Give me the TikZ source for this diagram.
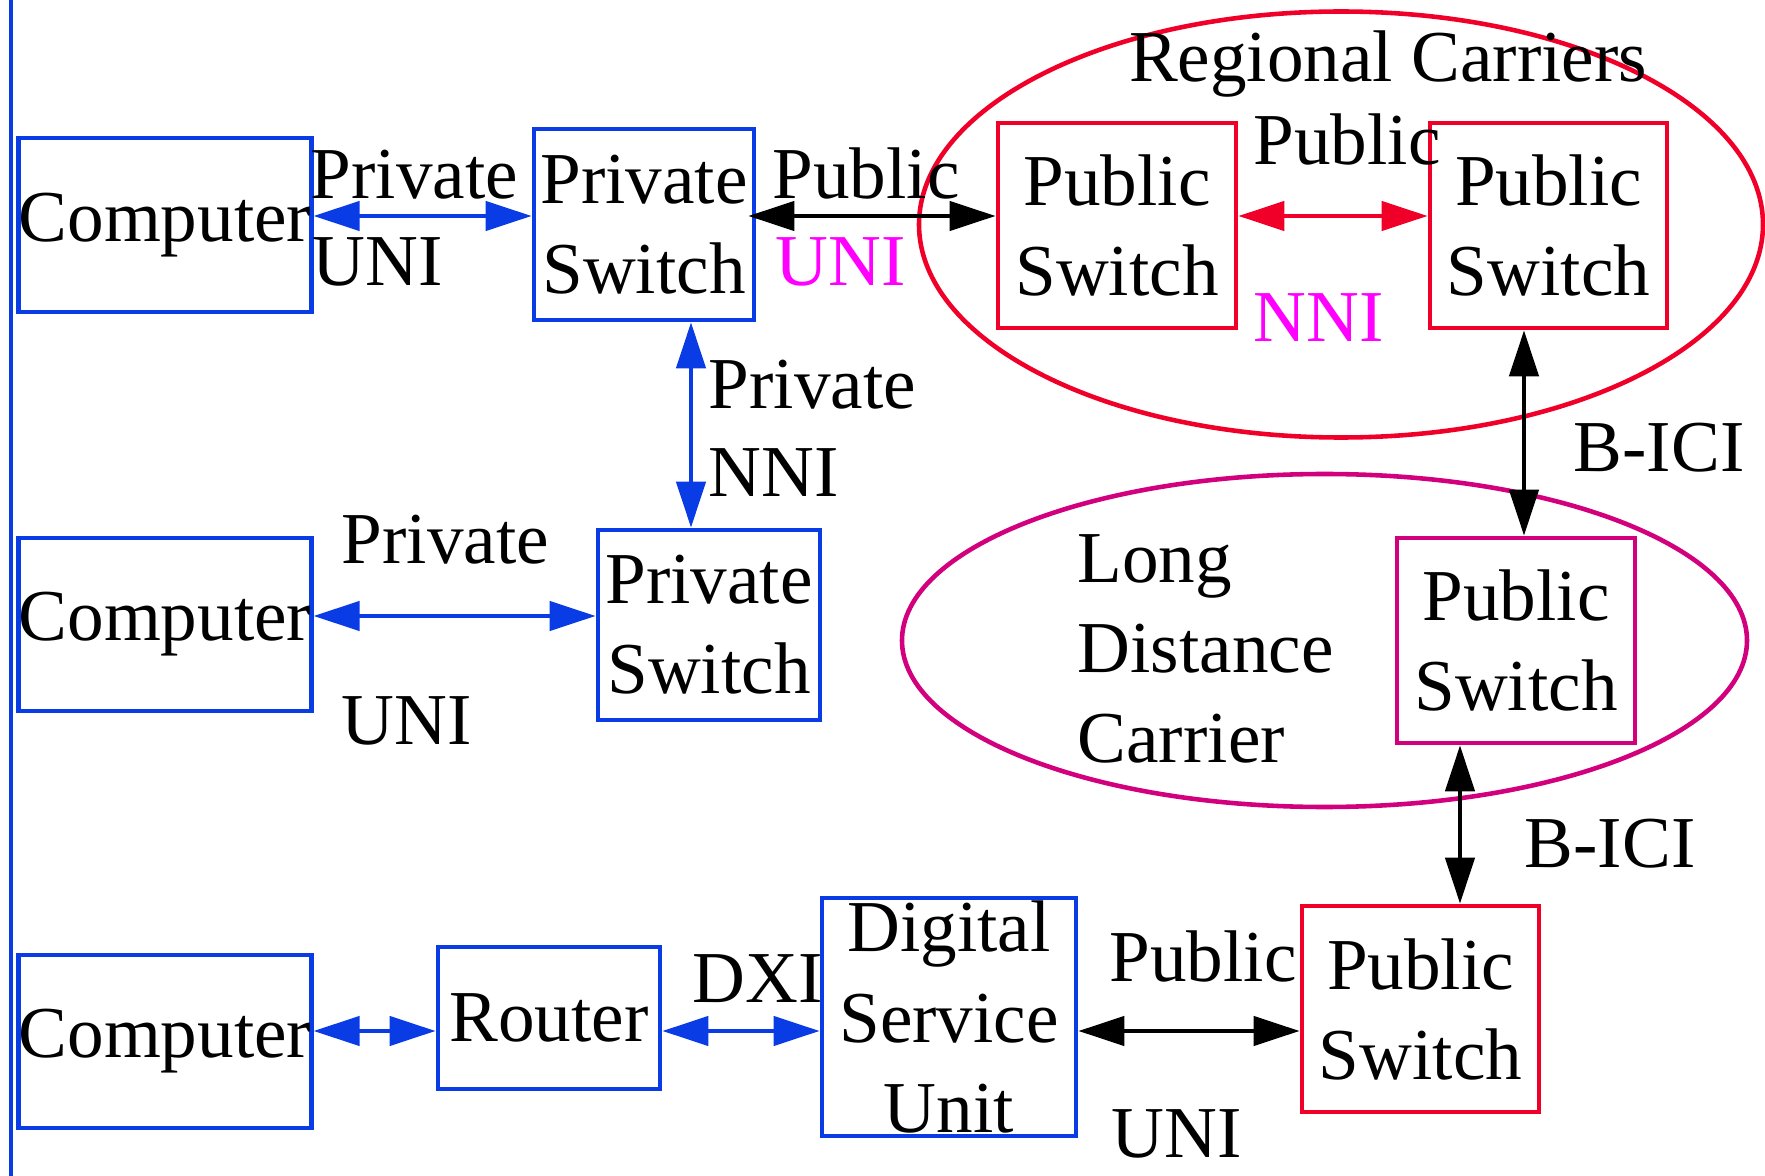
\documentclass[tikz,border=0pt]{standalone}
\usepackage{fontspec}
\setmainfont{Liberation Serif}
\usetikzlibrary{arrows.meta}
\definecolor{netblue}{RGB}{10,60,230}
\definecolor{netred}{RGB}{240,0,40}
\definecolor{netmag}{RGB}{255,0,255}
\definecolor{ldpink}{RGB}{210,0,125}
\begin{document}
\begin{tikzpicture}[x=0.01cm,y=-0.01cm,
  box/.style={draw,line width=1.3pt,inner sep=0pt,align=center,
    font=\fontsize{20.8}{25.6}\selectfont},
  lbl/.style={inner sep=0pt,anchor=west,font=\fontsize{20.8}{25.6}\selectfont},
  link/.style={line width=1.3pt,
    {Triangle[length=0.46cm,width=0.29cm]}-{Triangle[length=0.46cm,width=0.29cm]}}]
\useasboundingbox (0,0) rectangle (1765,1176);

% Left page rule.
\draw[netblue,line width=1.1pt] (11,0) -- (11,1176);

% Carrier clouds.
\draw[netred,line width=1.3pt] (1341,224.5) ellipse [x radius=422, y radius=213];
\draw[ldpink,line width=1.3pt] (1324.5,640.5) ellipse [x radius=422.5, y radius=166.5];

% Boxes.
\node[box,draw=netblue,minimum width=2.86cm,minimum height=1.74cm] (c1) at (165,225) {Computer};
\node[box,draw=netblue,minimum width=2.20cm,minimum height=1.91cm] (ps1) at (644,224.5) {Private\\Switch};
\node[box,draw=netred,minimum width=2.38cm,minimum height=2.05cm] (pub1) at (1117,225.5) {Public\\Switch};
\node[box,draw=netred,minimum width=2.37cm,minimum height=2.05cm] (pub2) at (1548.5,225.5) {Public\\Switch};
\node[box,draw=netblue,minimum width=2.86cm,minimum height=1.73cm] (c2) at (165,624.5) {Computer};
\node[box,draw=netblue,minimum width=2.22cm,minimum height=1.90cm] (ps2) at (709,625) {Private\\Switch};
\node[box,draw=ldpink,minimum width=2.38cm,minimum height=2.05cm] (ldpub) at (1516,640.5) {Public\\Switch};
\node[box,draw=netred,minimum width=2.37cm,minimum height=2.06cm] (pub3) at (1420.5,1009) {Public\\Switch};
\node[box,draw=netblue,minimum width=2.86cm,minimum height=1.73cm] (c3) at (165,1041.5) {Computer};
\node[box,draw=netblue,minimum width=2.22cm,minimum height=1.42cm] (router) at (549,1018) {Router};
\node[box,draw=netblue,minimum width=2.54cm,minimum height=2.38cm] (dsu) at (949,1017) {Digital\\Service\\Unit};

% Rows and columns of the links.
\coordinate (h1) at (0,216);
\coordinate (h2) at (0,616);
\coordinate (h3) at (0,1031);
\coordinate (v1) at (691,0);
\coordinate (v2) at (1524,0);
\coordinate (v3) at (1460,0);

% Links.
\draw[link,netblue] (c1.east |- h1) -- (ps1.west |- h1);
\draw[link,black,shorten <=-0.08cm] (ps1.east |- h1) -- (pub1.west |- h1);
\draw[link,netred] (pub1.east |- h1) -- (pub2.west |- h1);
\draw[link,netblue] (ps1.south -| v1) -- (ps2.north -| v1);
\draw[link,netblue] (c2.east |- h2) -- (ps2.west |- h2);
\draw[link,black] (pub2.south -| v2) -- (ldpub.north -| v2);
\draw[link,black] (ldpub.south -| v3) -- (pub3.north -| v3);
\draw[link,netblue] (c3.east |- h3) -- (router.west |- h3);
\draw[link,netblue] (router.east |- h3) -- (dsu.west |- h3);
\draw[link,black] (dsu.east |- h3) -- (pub3.west |- h3);

% Interface labels.
\node[lbl] (l1a) at (310,175) {Private};
\node[lbl] (l1b) at (312,262) {UNI};
\node[lbl] (l2a) at (772,173) {Public};
\node[lbl,text=netmag] (l2b) at (775,262) {UNI};
\node[lbl,anchor=center] (reg) at (1388,64) {Regional Carriers};
\node[lbl] (l3a) at (1253,139) {Public};
\node[lbl,text=netmag] (l3b) at (1253,318) {NNI};
\node[lbl] (l4a) at (708,385) {Private};
\node[lbl] (l4b) at (708,473) {NNI};
\node[lbl] (l5) at (1573,448) {B-ICI};
\node[lbl] (l6a) at (341,540) {Private};
\node[lbl] (l6b) at (341,721) {UNI};
\node[lbl,anchor=north west,align=left] (ldc) at (1077,534) {Long\\Distance\\Carrier};
\node[lbl] (l7) at (1524,844) {B-ICI};
\node[lbl] (l8) at (692,979) {DXI};
\node[lbl] (l9a) at (1109,956) {Public};
\node[lbl] (l9b) at (1111,1134) {UNI};
\end{tikzpicture}
\end{document}
